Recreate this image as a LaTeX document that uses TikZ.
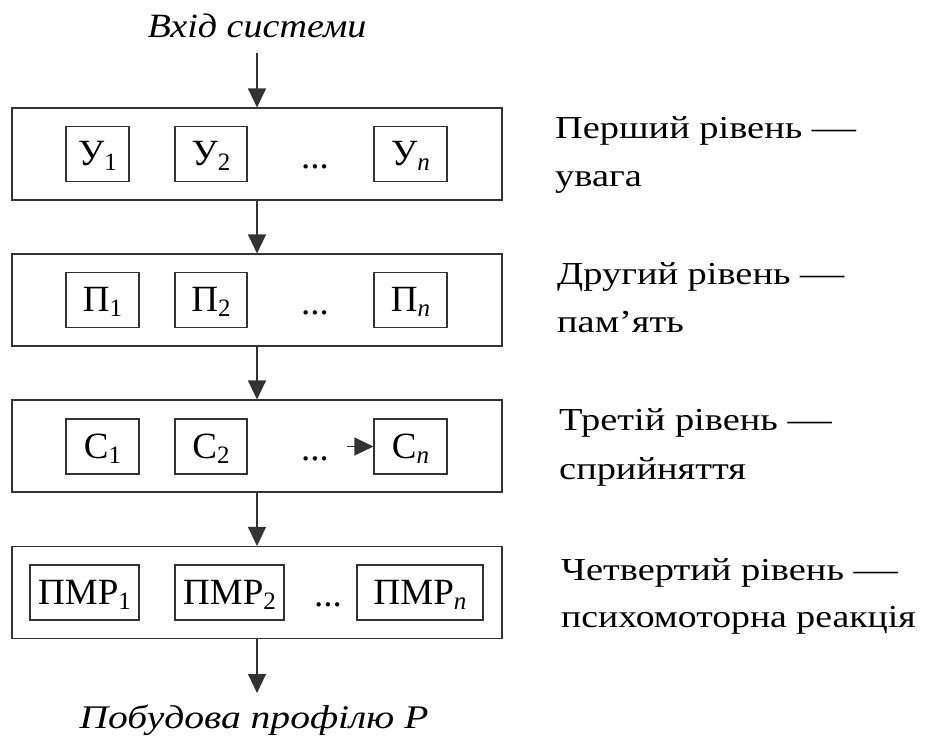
\documentclass[tikz,border=0pt]{standalone}
\usepackage{fontspec}
\usepackage{graphicx}
\setmainfont{Liberation Serif}
\usetikzlibrary{arrows.meta}

% lowered index for the cell names
\newcommand{\lowidx}[1]{\raisebox{-5pt}{\fontsize{25}{25}\selectfont #1}}
% slightly widened text for the captions and level descriptions
\newcommand{\wide}[2]{\scalebox{#1}[1]{#2}}
\newcommand{\longdash}{\scalebox{1.15}[1]{—}}

\tikzset{
  line/.style={draw=black!80, line width=1.1pt},
  level/.style={line, minimum width=490pt, minimum height=92pt, inner sep=0pt},
  cell/.style={line, minimum height=55pt, inner sep=0pt, text height=28pt, text depth=5pt,
               font=\fontsize{37}{40}\selectfont},
  dots/.style={anchor=base, inner sep=0pt, font=\fontsize{37}{40}\selectfont},
  flow/.style={line, -{Triangle[width=18pt,length=19pt]}},
  caption/.style={anchor=base, inner sep=0pt, font=\fontsize{34}{38}\selectfont\itshape},
  lab/.style={anchor=base west, inner sep=0pt, font=\fontsize{32}{36}\selectfont},
}

\begin{document}
\begin{tikzpicture}[x=1pt, y=-1pt]
\useasboundingbox (0,0) rectangle (927,737);

% input and output captions
\node[caption] (in) at (257,37) {\wide{1.12}{Вхід системи}};
\coordinate (inend) at (257,53);
\node[caption, font=\fontsize{33}{36}\selectfont\itshape] (out) at (254,728)
  {\wide{1.2}{Побудова профілю Р}};
\coordinate (outend) at (257,693);

% the four level frames
\node[level] (L1) at (257,154) {};
\node[level] (L2) at (257,300) {};
\node[level] (L3) at (257,446) {};
\node[level] (L4) at (257,592.5) {};

% level 1: attention
\node[cell, minimum width=63pt] (u1) at (97.5,154) {У\lowidx{1}};
\node[cell, minimum width=72pt] (u2) at (211,154) {У\lowidx{2}};
\node[dots] (ud) at (315,168) {...};
\node[cell, minimum width=73pt] (un) at (410.5,154) {У\lowidx{\textit{n}}};

% level 2: memory
\node[cell, minimum width=73pt] (p1) at (102.5,300) {П\lowidx{1}};
\node[cell, minimum width=72pt] (p2) at (211,300) {П\lowidx{2}};
\node[dots] (pd) at (315,314) {...};
\node[cell, minimum width=73pt] (pn) at (410.5,300) {П\lowidx{\textit{n}}};

% level 3: perception
\node[cell, minimum width=73pt] (c1) at (102.5,446.5) {С\lowidx{1}};
\node[cell, minimum width=72pt] (c2) at (211,446.5) {С\lowidx{2}};
\node[dots] (cd) at (315,460.5) {...};
\node[cell, minimum width=73pt] (cn) at (410.5,446.5) {С\lowidx{\textit{n}}};
\coordinate (cstart) at (347,446.5);

% level 4: psychomotor reaction
\node[cell, minimum width=109pt] (m1) at (84.5,592.5) {ПМР\lowidx{1}};
\node[cell, minimum width=109pt] (m2) at (229.5,592.5) {ПМР\lowidx{2}};
\node[dots] (md) at (328,606.5) {...};
\node[cell, minimum width=126pt] (mn) at (420,592.5) {ПМР\lowidx{\textit{n}}};

% connectors
\draw[flow] (inend) -- (L1.north);
\draw[flow] (L1.south) -- (L2.north);
\draw[flow] (L2.south) -- (L3.north);
\draw[flow] (L3.south) -- (L4.north);
\draw[flow] (L4.south) -- (outend);
\draw[flow] (cstart) -- (cn.west);

% level descriptions
\node[lab] (d1a) at (555,138) {\wide{1.2}{Перший рівень \longdash}};
\node[lab] (d1b) at (555,186) {\wide{1.2}{увага}};
\node[lab] (d2a) at (557,284) {\wide{1.2}{Другий рівень \longdash}};
\node[lab] (d2b) at (557,332) {\wide{1.2}{пам’ять}};
\node[lab] (d3a) at (559,430) {\wide{1.2}{Третій рівень \longdash}};
\node[lab] (d3b) at (559,479) {\wide{1.2}{сприйняття}};
\node[lab] (d4a) at (561,580) {\wide{1.2}{Четвертий рівень \longdash}};
\node[lab] (d4b) at (561,627) {\wide{1.18}{психомоторна реакція}};
\end{tikzpicture}
\end{document}
